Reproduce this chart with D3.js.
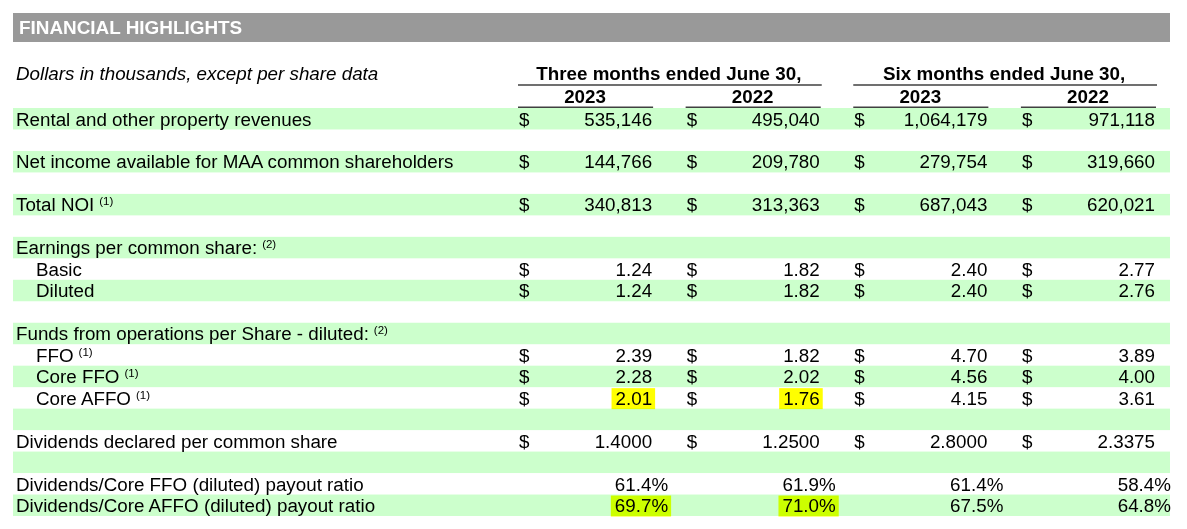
<!DOCTYPE html>
<html>
<head>
<meta charset="utf-8">
<script src="https://cdn.jsdelivr.net/npm/d3@7"></script>
<style>
  body { margin: 0; background: #fff; }
  svg { display: block; font-family: 'Liberation Sans', Arial, sans-serif; }
</style>
</head>
<body>
<svg id="chart"></svg>
<script>
// Table size
var width = 1187
var height = 529

// Row labels, footnote marks and indentation
var rowLabels = [
  'Rental and other property revenues', '',
  'Net income available for MAA common shareholders', '',
  'Total NOI', '',
  'Earnings per common share:', 'Basic', 'Diluted', '',
  'Funds from operations per Share - diluted:', 'FFO', 'Core FFO', 'Core AFFO', '',
  'Dividends declared per common share', '',
  'Dividends/Core FFO (diluted) payout ratio',
  'Dividends/Core AFFO (diluted) payout ratio'
]
var rowNotes = ['', '', '', '', '(1)', '', '(2)', '', '', '', '(2)', '(1)', '(1)', '(1)', '', '', '', '', '']
var rowIndent = [0, 0, 0, 0, 0, 0, 0, 1, 1, 0, 0, 1, 1, 1, 0, 0, 0, 0, 0]
var rowKind = ['int', '', 'int', '', 'int', '', '', 'eps', 'eps', '', '', 'eps', 'eps', 'eps', '', 'div', '', 'pct', 'pct']

// Column headers
var groups = ['Three months ended June 30,', 'Six months ended June 30,']
var columns = ['q2023', 'q2022', 'h2023', 'h2022']
var years = ['2023', '2022', '2023', '2022']

// Values per column
var q2023 = [535146, null, 144766, null, 340813, null, null, 1.24, 1.24, null, null, 2.39, 2.28, 2.01, null, 1.4, null, 61.4, 69.7]
var q2022 = [495040, null, 209780, null, 313363, null, null, 1.82, 1.82, null, null, 1.82, 2.02, 1.76, null, 1.25, null, 61.9, 71.0]
var h2023 = [1064179, null, 279754, null, 687043, null, null, 2.40, 2.40, null, null, 4.70, 4.56, 4.15, null, 2.8, null, 61.4, 67.5]
var h2022 = [971118, null, 319660, null, 620021, null, null, 2.77, 2.76, null, null, 3.89, 4.00, 3.61, null, 2.3375, null, 58.4, 64.8]

// Highlighted cells [row, column]
var highlights = [[13, 'q2023'], [13, 'q2022'], [18, 'q2023'], [18, 'q2022']]

var tableLeft = 13
var tableRight = 1170
var fontSize = 18.8

var formats = {
  int: d3.format(','),
  eps: d3.format('.2f'),
  div: d3.format('.4f'),
  pct: function (v) { return d3.format('.1f')(v) + '%' }
}

function createXScale () {
  return d3.scaleBand()
    .domain(columns)
    .range([518, 1155])
    .paddingInner(0.2)
}

function createYScale () {
  return d3.scaleBand()
    .domain(d3.range(rowLabels.length))
    .range([108, 516])
}

// Gray title bar
function addTitle (svg) {
  svg.append('rect')
    .attr('x', tableLeft)
    .attr('y', 13)
    .attr('width', tableRight - tableLeft)
    .attr('height', 29)
    .attr('fill', '#999999')
  svg.append('text')
    .attr('x', 19)
    .attr('y', 34)
    .attr('fill', '#fff')
    .attr('font-weight', 'bold')
    .attr('font-size', 18.9)
    .text('FINANCIAL HIGHLIGHTS')
}

// Column headers with underlines
function addHeaders (svg, xScale) {
  svg.append('text')
    .attr('x', 16)
    .attr('y', 80)
    .attr('font-style', 'italic')
    .attr('font-size', fontSize)
    .text('Dollars in thousands, except per share data')

  groups.forEach(function (g, i) {
    var x0 = xScale(columns[i * 2])
    var x1 = xScale(columns[i * 2 + 1]) + xScale.bandwidth()
    svg.append('text')
      .attr('x', (x0 + x1) / 2)
      .attr('y', 80)
      .attr('text-anchor', 'middle')
      .attr('font-weight', 'bold')
      .attr('font-size', fontSize)
      .text(g)
    svg.append('line')
      .attr('x1', x0).attr('x2', x1 + 2)
      .attr('y1', 85).attr('y2', 85)
      .attr('stroke', '#404040')
      .attr('stroke-width', 1.5)
  })

  columns.forEach(function (c, i) {
    var x0 = xScale(c)
    svg.append('text')
      .attr('x', x0 + xScale.bandwidth() / 2)
      .attr('y', 102.5)
      .attr('text-anchor', 'middle')
      .attr('font-weight', 'bold')
      .attr('font-size', fontSize)
      .text(years[i])
    svg.append('line')
      .attr('x1', x0).attr('x2', x0 + xScale.bandwidth() + 1)
      .attr('y1', 107.2).attr('y2', 107.2)
      .attr('stroke', '#404040')
      .attr('stroke-width', 1.5)
  })
}

// Green bands on every other row
function addBands (svg, yScale) {
  svg.append('g')
    .selectAll('rect')
    .data(d3.range(rowLabels.length).filter(function (i) { return i % 2 === 0 }))
    .enter()
    .append('rect')
    .attr('x', tableLeft)
    .attr('y', function (i) { return yScale(i) })
    .attr('width', tableRight - tableLeft)
    .attr('height', yScale.bandwidth())
    .attr('fill', '#ccffcc')
}

function addRowLabels (svg, yScale) {
  var labels = svg.append('g')
    .selectAll('text')
    .data(d3.range(rowLabels.length).filter(function (i) { return rowLabels[i] !== '' }))
    .enter()
    .append('text')
    .attr('x', function (i) { return rowIndent[i] ? 36 : 16 })
    .attr('y', function (i) { return yScale(i) + 17.5 })
    .attr('font-size', fontSize)

  labels.append('tspan').text(function (i) { return rowLabels[i] })
  labels.filter(function (i) { return rowNotes[i] !== '' })
    .append('tspan')
    .attr('dx', 5)
    .attr('dy', -6)
    .attr('font-size', 11.5)
    .text(function (i) { return rowNotes[i] })
}

function addValues (svg, xScale, yScale) {
  var series = { q2023: q2023, q2022: q2022, h2023: h2023, h2022: h2022 }
  var cells = []
  columns.forEach(function (c) {
    series[c].forEach(function (v, i) {
      if (v !== null) cells.push({ col: c, row: i, value: v, kind: rowKind[i] })
    })
  })

  var hl = svg.append('g').style('mix-blend-mode', 'multiply')
  var g = svg.append('g').attr('font-size', fontSize)

  cells.forEach(function (d) {
    var x0 = xScale(d.col)
    var x1 = x0 + xScale.bandwidth()
    var y = yScale(d.row) + 17.5
    var right = d.kind === 'pct' ? x1 + 16 : x1
    if (d.kind !== 'pct') {
      g.append('text')
        .attr('x', x0 + 1)
        .attr('y', y)
        .text('$')
    }
    var t = g.append('text')
      .attr('x', right)
      .attr('y', y)
      .attr('text-anchor', 'end')
      .text(formats[d.kind](d.value))

    var isHl = highlights.some(function (h) { return h[0] === d.row && h[1] === d.col })
    if (isHl) {
      var len = t.node().getComputedTextLength()
      hl.append('rect')
        .attr('x', right - len - 4)
        .attr('y', yScale(d.row) + 1)
        .attr('width', len + 7)
        .attr('height', yScale.bandwidth() - 0.5)
        .attr('fill', '#ffff00')
    }
  })
}

function createTable () {
  var svg = d3.select('#chart')
    .attr('width', width)
    .attr('height', height)

  var xScale = createXScale()
  var yScale = createYScale()

  addTitle(svg)
  addBands(svg, yScale)
  addHeaders(svg, xScale)
  addRowLabels(svg, yScale)
  addValues(svg, xScale, yScale)
}

createTable()
</script>
</body>
</html>
